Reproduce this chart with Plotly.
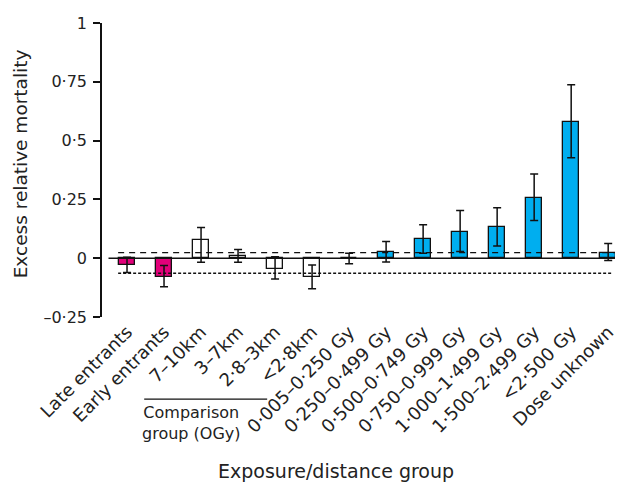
import plotly.graph_objects as go

categories = ["Late entrants", "Early entrants", "7–10km", "3–7km", "2·8–3km", "<2·8km",
              "0·005–0·250 Gy", "0·250–0·499 Gy", "0·500–0·749 Gy", "0·750–0·999 Gy",
              "1·000–1·499 Gy", "1·500–2·499 Gy", "<2·500 Gy", "Dose unknown"]
values = [-0.031, -0.080, 0.078, 0.008, -0.044, -0.080, 0.0, 0.026, 0.081, 0.113, 0.132, 0.256, 0.580, 0.024]
upper = [0.004, -0.031, 0.130, 0.037, 0.006, -0.029, 0.021, 0.071, 0.142, 0.203, 0.214, 0.358, 0.737, 0.062]
lower = [-0.061, -0.121, -0.017, -0.017, -0.088, -0.130, -0.024, -0.016, 0.021, 0.028, 0.052, 0.160, 0.427, -0.010]
groups = ["entrant", "entrant", "comparison", "comparison", "comparison", "comparison",
          "dose", "dose", "dose", "dose", "dose", "dose", "dose", "dose"]
ref_upper = 0.024
ref_lower = -0.064
yticks = [-0.25, 0, 0.25, 0.5, 0.75, 1]
yticktext = ["–0·25", "0", "0·25", "0·5", "0·75", "1"]

colour_map = {"entrant": "#E2007A", "comparison": "#FFFFFF", "dose": "#00AEEF"}
colours = [colour_map[g] for g in groups]
xpos = list(range(len(categories)))

FONT = "DejaVu Sans"
TXT = "#222222"

fig = go.Figure()
fig.add_trace(go.Bar(
    x=xpos, y=values, width=0.43,
    marker=dict(color=colours, line=dict(color="#111111", width=1.3)),
    error_y=dict(type="data", symmetric=False,
                 array=[u - v for u, v in zip(upper, values)],
                 arrayminus=[v - l for v, l in zip(values, lower)],
                 color="#111111", thickness=1.5, width=4),
    showlegend=False,
))

# zero line
fig.add_shape(type="line", xref="x", yref="y", x0=-0.5, x1=13.45, y0=0, y1=0,
              line=dict(color="#111111", width=1.5))
# reference lines
fig.add_shape(type="line", xref="x", yref="y", x0=-0.24, x1=13.19, y0=ref_upper, y1=ref_upper,
              line=dict(color="#111111", width=1.3, dash="6px,5px"))
fig.add_shape(type="line", xref="x", yref="y", x0=-0.24, x1=13.13, y0=ref_lower, y1=ref_lower,
              line=dict(color="#111111", width=1.3, dash="3px,2px"))

# comparison group bracket
fig.add_shape(type="line", xref="paper", yref="paper", x0=0.081, x1=0.317, y0=-0.279, y1=-0.279,
              line=dict(color="#111111", width=1.2))
fig.add_annotation(xref="paper", yref="paper", x=0.171, y=-0.287, yanchor="top", xanchor="center",
                   text="Comparison<br>group (OGy)", showarrow=False, align="center",
                   font=dict(family=FONT, size=16, color=TXT))

# axis titles
fig.add_annotation(xref="paper", yref="paper", x=0.449, y=-0.524, xanchor="center", yanchor="middle",
                   text="Exposure/distance group", showarrow=False,
                   font=dict(family=FONT, size=19, color=TXT))
fig.add_annotation(xref="paper", yref="paper", x=-0.157, y=0.52, xanchor="center", yanchor="middle",
                   text="Excess relative mortality", showarrow=False, textangle=-90,
                   font=dict(family=FONT, size=18.5, color=TXT))

# page body has an 8px margin, so the figure is 8px smaller than the window
fig.update_layout(
    width=615, height=474,
    margin=dict(l=94, r=0, t=15, b=165),
    plot_bgcolor="white", paper_bgcolor="white",
    font=dict(family=FONT, size=16, color=TXT),
    bargap=0,
)
fig.update_xaxes(range=[-0.676, 13.4], tickmode="array", tickvals=xpos, ticktext=categories,
                 tickangle=-45, showline=False, showgrid=False, zeroline=False, ticks="",
                 automargin=False, tickfont=dict(family=FONT, size=18, color=TXT))
fig.update_yaxes(range=[-0.25, 1], tickmode="array", tickvals=yticks, ticktext=yticktext,
                 showline=True, linecolor="#111111", linewidth=1.5, ticks="outside", ticklen=7,
                 tickwidth=1.5, tickcolor="#111111", showgrid=False, zeroline=False,
                 ticklabelstandoff=3,
                 automargin=False, tickfont=dict(family=FONT, size=16, color=TXT))

fig.write_html("out.html")
